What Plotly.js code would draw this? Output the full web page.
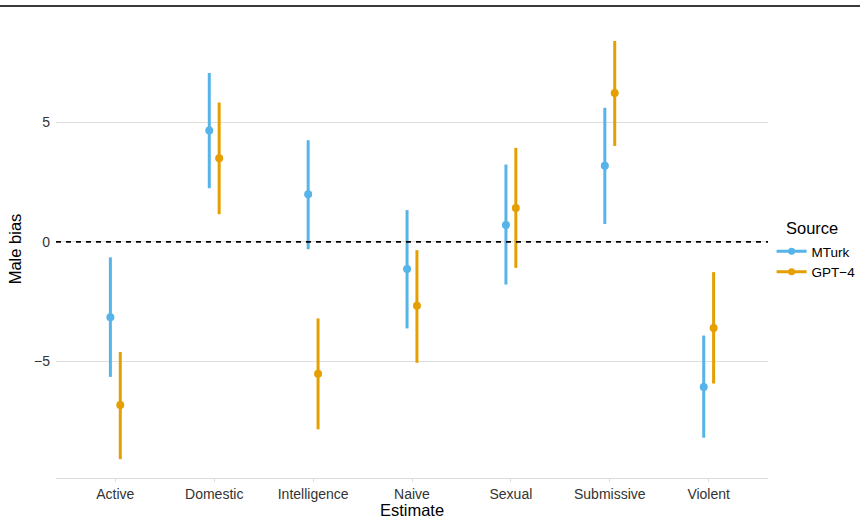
<!DOCTYPE html>
<html>
<head>
<meta charset="utf-8">
<script src="https://cdn.plot.ly/plotly-3.0.1.min.js"></script>
<style>
  html, body { margin: 0; padding: 0; background: #fff; }
  #wrap { position: relative; width: 860px; height: 519px; }
  #topline { position: absolute; left: 0; top: 5px; width: 860px; height: 2px; background: #3a3a3a; z-index: 5; }
  #chart { position: absolute; left: 0; top: 0; width: 860px; height: 519px; }
</style>
</head>
<body>
<div id="wrap"><div id="topline"></div><div id="chart"></div></div>
<script>
const categories = ["Active", "Domestic", "Intelligence", "Naive", "Sexual", "Submissive", "Violent"];

const mturkEst   = [-3.16, 4.67, 1.99, -1.14, 0.71, 3.19, -6.08];
const mturkLow   = [-5.66, 2.25, -0.31, -3.63, -1.79, 0.75, -8.21];
const mturkHigh  = [-0.65, 7.08, 4.26, 1.33, 3.24, 5.62, -3.93];

const gptEst     = [-6.84, 3.50, -5.53, -2.68, 1.42, 6.24, -3.61];
const gptLow     = [-9.11, 1.16, -7.86, -5.07, -1.09, 4.02, -5.94];
const gptHigh    = [-4.62, 5.84, -3.21, -0.35, 3.94, 8.42, -1.27];

const seriesNames = ["MTurk", "GPT\u22124"];
const legendTitle = "Source";
const colors = ["#56B4E9", "#E69F00"];
const dodge = 0.05;

function makeTrace(est, low, high, offset, color, name) {
  return {
    type: "scatter",
    mode: "markers",
    x: categories.map((c, i) => i + offset),
    y: est,
    error_y: {
      type: "data",
      symmetric: false,
      array: high.map((h, i) => h - est[i]),
      arrayminus: est.map((e, i) => e - low[i]),
      color: color,
      thickness: 3,
      width: 0
    },
    marker: { color: color, size: 8 },
    name: name,
    showlegend: false,
    hoverinfo: "skip"
  };
}

function legendTrace(color, name) {
  return {
    type: "scatter",
    mode: "lines+markers",
    x: [null], y: [null],
    line: { color: color, width: 3 },
    marker: { color: color, size: 7 },
    name: name,
    showlegend: true
  };
}

const data = [
  makeTrace(mturkEst, mturkLow, mturkHigh, -dodge, colors[0], seriesNames[0]),
  makeTrace(gptEst, gptLow, gptHigh, dodge, colors[1], seriesNames[1]),
  legendTrace(colors[0], seriesNames[0]),
  legendTrace(colors[1], seriesNames[1])
];

const plotW = 712.8, plotH = 458, plotL = 55.6, plotB = 478;
const layout = {
  width: 860, height: 519,
  margin: { l: 55.6, r: 91.6, t: 20, b: 41, autoexpand: false },
  paper_bgcolor: "#ffffff",
  plot_bgcolor: "#ffffff",
  font: { family: "Liberation Sans, Arial, sans-serif", color: "#000" },
  showlegend: true,
  xaxis: {
    range: [-0.6, 6.6],
    tickmode: "array",
    tickvals: categories.map((c, i) => i),
    ticktext: categories,
    showgrid: false,
    zeroline: false,
    showline: true,
    linecolor: "#dcdcdc",
    linewidth: 1,
    ticks: "outside",
    ticklen: 3,
    tickcolor: "#dcdcdc",
    tickfont: { size: 14, color: "#333333" },
    title: { text: "Estimate", font: { size: 16.5, color: "#000" }, standoff: 4 },
    fixedrange: true
  },
  yaxis: {
    range: [-9.9, 9.3],
    tickmode: "array",
    tickvals: [-5, 0, 5],
    showgrid: true,
    gridcolor: "#dedede",
    gridwidth: 1,
    zeroline: false,
    showline: false,
    ticks: "",
    ticklabelstandoff: 5,
    tickfont: { size: 14, color: "#333333" },
    title: { text: "Male bias", font: { size: 16.5, color: "#000" }, standoff: 8 },
    fixedrange: true
  },
  shapes: [
    {
      type: "line", xref: "paper", yref: "y",
      x0: 0, x1: 1, y0: 0, y1: 0,
      line: { color: "#000000", width: 1.6, dash: "5px,5px" },
      layer: "above"
    }
  ],
  annotations: [
    {
      text: legendTitle, showarrow: false,
      xref: "paper", yref: "paper",
      x: (784 - plotL) / plotW, xanchor: "left",
      y: (plotB - 228) / plotH, yanchor: "middle",
      font: { size: 16.5, color: "#000" }
    }
  ],
  legend: {
    x: (772 - plotL) / plotW, xanchor: "left",
    y: (plotB - 262) / plotH, yanchor: "middle",
    font: { size: 13.5, color: "#000" },
    itemwidth: 30,
    bgcolor: "rgba(0,0,0,0)",
    tracegroupgap: 0
  }
};

Plotly.newPlot("chart", data, layout, { staticPlot: true, displayModeBar: false });
</script>
</body>
</html>
